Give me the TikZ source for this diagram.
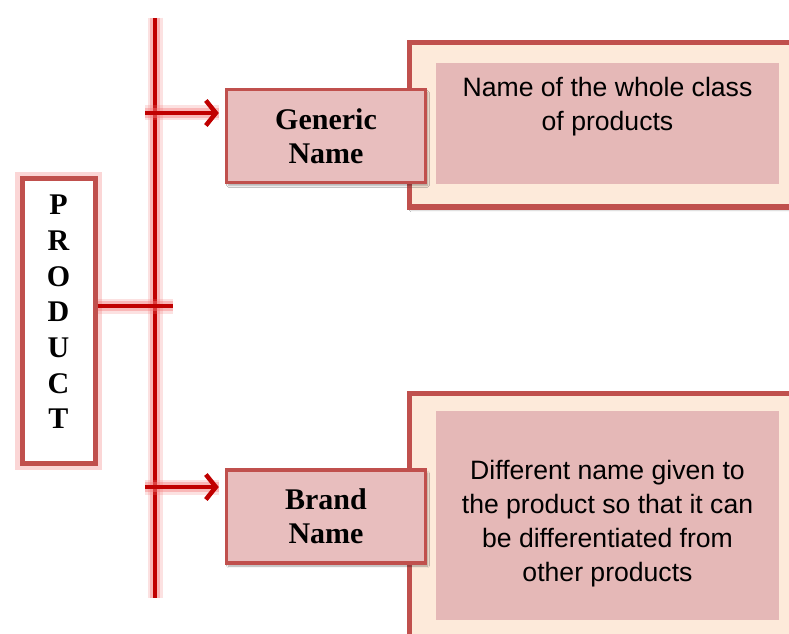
\documentclass[tikz,border=0pt]{standalone}
\usepackage{fontspec}
\setmainfont{Liberation Serif}
\newfontfamily\arialfont{Liberation Sans}
\usetikzlibrary{arrows.meta,shadows.blur}

\definecolor{linered}{RGB}{192,0,0}
\definecolor{glowred}{RGB}{245,120,120}
\definecolor{boxborder}{RGB}{192,80,77}
\definecolor{peach}{RGB}{253,234,218}
\definecolor{rose}{RGB}{229,184,183}
\definecolor{labelfill}{RGB}{232,190,190}

\tikzset{
  glowline/.style={
    preaction={draw=glowred, line width=15pt, opacity=0.22, arrows=-},
    preaction={draw=glowred, line width=10pt, opacity=0.4, arrows=-},
    draw=linered, line width=4.5pt},
  barb/.style={-{Straight Barb[length=10pt,width=25pt]}},
  namebox/.style={draw=boxborder, line width=3.5pt, fill=labelfill,
    minimum width=199pt, minimum height=93pt, inner sep=0pt, align=center,
    font=\fontsize{30}{34}\selectfont\bfseries,
    blur shadow={shadow xshift=2pt, shadow yshift=-3pt, shadow blur steps=6, shadow opacity=35}},
  outerbox/.style={draw=boxborder, line width=5pt, fill=peach,
    blur shadow={shadow xshift=2pt, shadow yshift=-3pt, shadow blur steps=6, shadow opacity=35}},
  innerbox/.style={fill=rose},
  desc/.style={align=center, font=\arialfont\fontsize{26.6}{34}\selectfont, text=black},
  productbox/.style={draw=boxborder, line width=5pt, fill=white,
    preaction={draw=glowred, line width=14pt, opacity=0.3}},
}

\begin{document}
\begin{tikzpicture}[x=1pt,y=1pt]
  \useasboundingbox (0,0) rectangle (789,633);
  \fill[white] (0,0) rectangle (789,633);

  % description panels
  \draw[outerbox] (409,590) rectangle (812,426);
  \fill[innerbox] (436,570) rectangle (779,449);
  \node[desc] (gdesc) at (607.5,526) {Name of the whole class\\of products};

  \draw[outerbox] (409,240) rectangle (812,-30);
  \fill[innerbox] (436,222) rectangle (779,13);
  \node[desc] (bdesc) at (607.5,109.5) {Different name given to\\the product so that it can\\be differentiated from\\other products};

  % main stem
  \coordinate (vtop) at (155,615);
  \coordinate (vbot) at (155,35);
  \draw[glowline, line cap=butt] (vtop) -- (vbot);

  % PRODUCT box and its branch
  \draw[productbox] (22,170) rectangle (95,454);
  \node[align=center, font=\fontsize{30}{35.7}\selectfont\bfseries] (product) at (58.5,321)
    {P\\R\\O\\D\\U\\C\\T};
  \coordinate (pout) at (97.5,327);
  \coordinate (pend) at (173,327);
  \draw[glowline] (pout) -- (pend);

  % name boxes
  \node[namebox] (generic) at (326,497) {Generic\\Name};
  \node[namebox] (brand) at (326,116.5) {Brand\\Name};

  % arrows from the stem
  \coordinate (gstart) at (145,520);
  \coordinate (bstart) at (145,146);
  \draw[glowline, barb, shorten >=6pt] (gstart) -- (gstart -| generic.west);
  \draw[glowline, barb, shorten >=6pt] (bstart) -- (bstart -| brand.west);
\end{tikzpicture}
\end{document}
